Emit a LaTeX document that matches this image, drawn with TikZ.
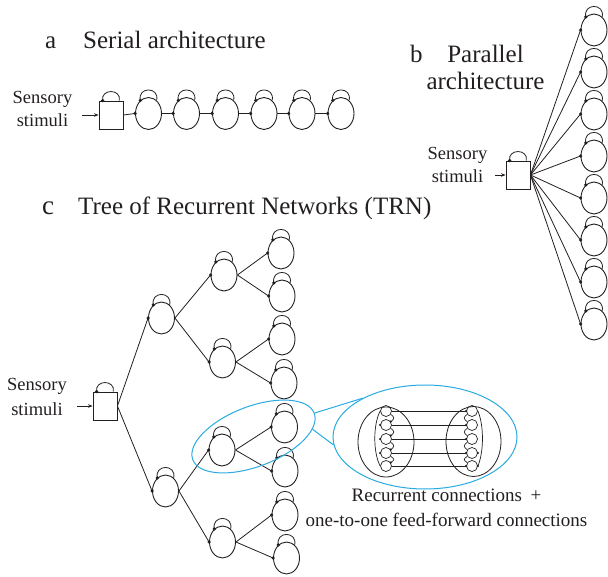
\documentclass[tikz,border=0pt]{standalone}
\usepackage{fontspec}
\setmainfont{Liberation Serif}
\usetikzlibrary{shapes.geometric,arrows.meta,calc}
\definecolor{zoomblue}{RGB}{41,171,226}
\definecolor{ink}{RGB}{35,31,32}
\newcommand\nloop[1]{\draw[conn] (#1.122) .. controls +(-3,-14) and +(3,-14) .. (#1.58); \fill[ink] (#1.122) circle[radius=1.8pt];}
\newcommand\bloop[1]{\draw[conn] (#1.120) .. controls +(-2,-12) and +(2,-12) .. (#1.60); \fill[ink] (#1.120) circle[radius=1.8pt];}
\newcommand\feed[2]{\draw[conn] (#1.east) -- (#2.west); \fill[ink] (#2.west) circle[radius=1.8pt];}
\begin{document}
\begin{tikzpicture}[x=1pt,y=-1pt,
  conn/.style={draw=ink,line width=0.8pt},
  neur/.style={ellipse,draw=ink,line width=0.9pt,minimum width=26pt,minimum height=32pt,inner sep=0pt},
  sbox/.style={rectangle,draw=ink,line width=0.9pt,minimum width=24pt,minimum height=28pt,inner sep=0pt},
  mini/.style={circle,draw=ink,line width=0.7pt,minimum size=11pt,inner sep=0pt},
  ttl/.style={text=ink,font=\fontsize{25}{30}\selectfont,inner sep=0pt},
  lbl/.style={text=ink,font=\fontsize{18.5}{22}\selectfont,inner sep=0pt,anchor=base},
  captxt/.style={text=ink,font=\fontsize{19}{23}\selectfont,inner sep=0pt,anchor=base},
  inarr/.style={conn,-{Stealth[length=4.5pt,width=3.5pt]}},
  zoomline/.style={draw=zoomblue,line width=1pt}]
\useasboundingbox (0,0) rectangle (608,577);

% ---------- panel a ----------
\node[ttl,anchor=base west] (ta) at (45,48.5) {a};
\node[ttl,anchor=base west] (tta) at (83,48.5) {Serial architecture};
\node[lbl] (sa1) at (42.5,104) {Sensory};
\node[lbl] (sa2) at (42.5,127) {stimuli};
\node[sbox] (boxa) at (111,115) {};
\coordinate (ain) at (82,115);
\draw[inarr] (ain) -- (boxa.west);
\bloop{boxa}
\foreach \i/\x in {1/148.5,2/186.5,3/225.5,4/264,5/302,6/341}{
  \node[neur] (s\i) at (\x,113.5) {};
  \nloop{s\i}
}
\feed{boxa}{s1}
\foreach \i/\j in {1/2,2/3,3/4,4/5,5/6}{\feed{s\i}{s\j}}

% ---------- panel b ----------
\node[ttl,anchor=base west] (tb) at (410,63) {b};
\node[ttl,anchor=base] (tb1) at (485.5,63) {Parallel};
\node[ttl,anchor=base] (tb2) at (485.5,90) {architecture};
\node[lbl] (sb1) at (457.5,160) {Sensory};
\node[lbl] (sb2) at (457.5,183) {stimuli};
\node[sbox] (boxb) at (518,175) {};
\coordinate (bin) at (495,175);
\draw[inarr] (bin) -- (boxb.west);
\bloop{boxb}
\foreach \k in {0,...,7}{
  \node[neur] (p\k) at (594,{30+42*\k}) {};
  \nloop{p\k}
  \feed{boxb}{p\k}
}

% ---------- panel c ----------
\node[ttl,anchor=base west,font=\fontsize{27}{30}\selectfont] (tc) at (42,215) {c};
\node[ttl,anchor=base west] (ttc) at (78,215) {Tree of Recurrent Networks (TRN)};
\node[lbl] (sc1) at (37,391) {Sensory};
\node[lbl] (sc2) at (37,415) {stimuli};
\node[sbox] (boxc) at (105,406) {};
\coordinate (cin) at (77,406);
\draw[inarr] (cin) -- (boxc.west);
\bloop{boxc}
\node[neur] (u1) at (161.5,318) {};
\node[neur] (u2) at (165.5,491) {};
\node[neur] (v1) at (224,275) {};
\node[neur] (v2) at (222.5,362) {};
\node[neur] (v3) at (222,450) {};
\node[neur] (v4) at (222.5,542) {};
\foreach \i/\x/\y in {1/281/253,2/282/296,3/282/339,4/284/383,5/284.5/427,6/285/471,7/285/515,8/286.5/558}{
  \node[neur] (w\i) at (\x,\y) {};
  \nloop{w\i}
}
\foreach \n in {u1,u2,v1,v2,v3,v4}{\nloop{\n}}
\feed{boxc}{u1}
\feed{boxc}{u2}
\feed{u1}{v1}
\feed{u1}{v2}
\feed{u2}{v3}
\feed{u2}{v4}
\feed{v1}{w1}
\feed{v1}{w2}
\feed{v2}{w3}
\feed{v2}{w4}
\feed{v3}{w5}
\feed{v3}{w6}
\feed{v4}{w7}
\feed{v4}{w8}

% ---------- zoom-in ----------
\node[ellipse,draw=zoomblue,line width=1pt,minimum width=130pt,minimum height=60pt,inner sep=0pt,rotate=21] (zsrc) at (253.5,436.5) {};
\node[ellipse,draw=zoomblue,line width=1pt,minimum width=184pt,minimum height=104pt,inner sep=0pt] (zdst) at (425,437) {};
\draw[zoomline] (zsrc.east) -- (zdst.148);
\draw[zoomline] (zsrc.-14) -- (zdst.185);

\node[ellipse,draw=ink,line width=0.8pt,minimum width=56pt,minimum height=70pt,inner sep=0pt] (gl) at (386,442) {};
\node[ellipse,draw=ink,line width=0.8pt,minimum width=55pt,minimum height=70pt,inner sep=0pt] (gr) at (473.5,441.5) {};
\foreach \i/\y in {1/411,2/425,3/439,4/453,5/466}{
  \node[mini] (l\i) at (386,\y) {};
  \node[mini] (r\i) at (472,\y) {};
  \draw[conn,line width=0.7pt] (l\i.east) -- (r\i.west);
  \fill[ink] (r\i.west) circle[radius=1.3pt];
}
% recurrent connections, left group
\draw[conn,line width=0.7pt] (l1.west) .. controls (373,425) and (373,452) .. (l5.west);
\foreach \i/\j in {1/2,2/3,3/4,4/5}{
  \draw[conn,line width=0.7pt] (l\i.-35) .. controls +(4,3) and +(4,-3) .. (l\j.35);
  \fill[ink] (l\j.35) circle[radius=1.3pt];
}
\foreach \i in {2,3,4}{\fill[ink] (l\i.west) circle[radius=1.3pt];}
% recurrent connections, right group
\draw[conn,line width=0.7pt] (r1.east) .. controls (484,425) and (484,452) .. (r5.east);
\foreach \i/\j in {1/2,2/3,3/4,4/5}{
  \draw[conn,line width=0.7pt] (r\i.-145) .. controls +(-4,3) and +(-4,-3) .. (r\j.145);
}
\foreach \i in {4,5}{\fill[ink] (r\i.east) circle[radius=1.3pt];}

\node[captxt] (cp1) at (446.5,501) {Recurrent connections\hspace{0.45em}+};
\node[captxt] (cp2) at (446.5,526) {one-to-one feed-forward connections};
\end{tikzpicture}
\end{document}
